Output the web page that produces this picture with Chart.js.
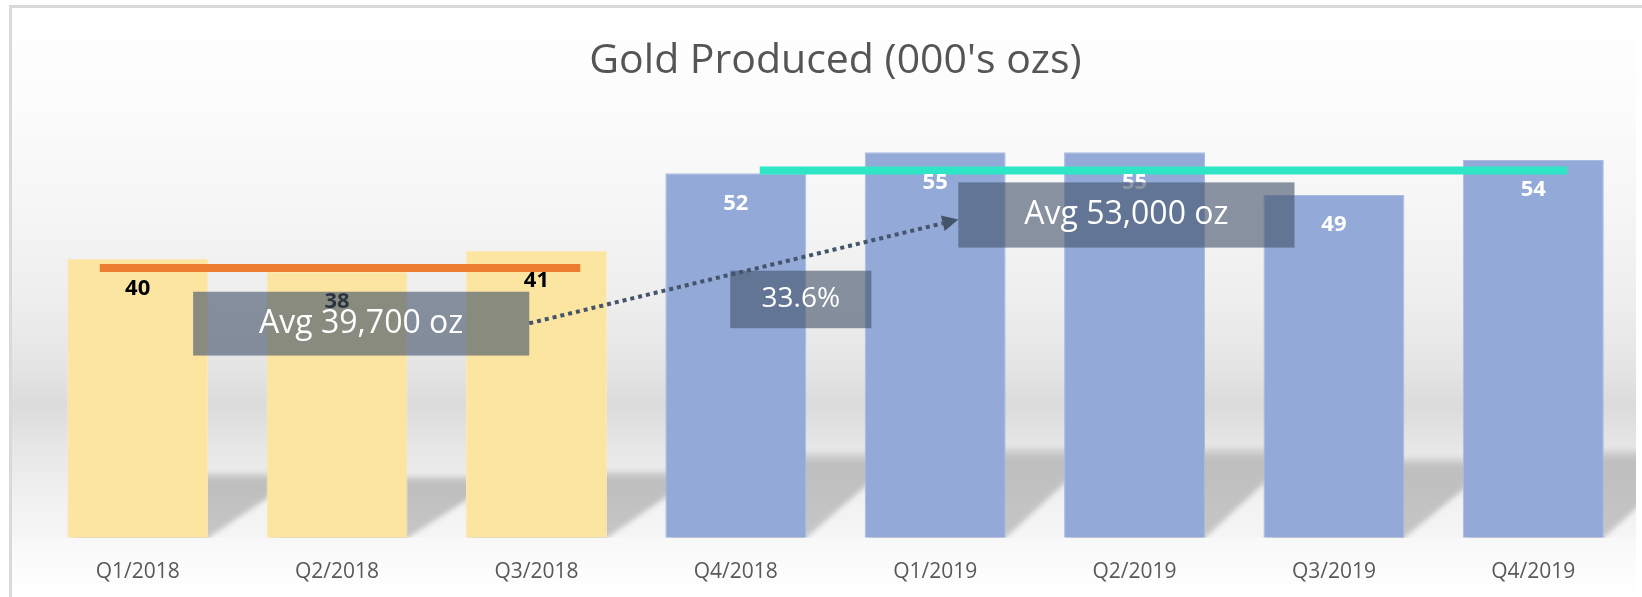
<!DOCTYPE html>
<html>
<head>
<meta charset="utf-8">
<script src="https://cdn.jsdelivr.net/npm/chart.js@4/dist/chart.umd.min.js"></script>
<style>
  html, body { margin: 0; padding: 0; background: #ffffff; }
  #wrap { width: 1642px; height: 597px; }
</style>
</head>
<body>
<div id="wrap"><canvas id="c" width="1642" height="597"></canvas></div>
<script>
// ---------- data ----------
const categories = ['Q1/2018', 'Q2/2018', 'Q3/2018', 'Q4/2018', 'Q1/2019', 'Q2/2019', 'Q3/2019', 'Q4/2019'];
const goldProduced = [39.8, 38.0, 40.9, 52.0, 55.0, 55.0, 48.9, 53.9];
const avgValues = [38.5, 52.4];           // average reference lines, as drawn
const calloutTexts = ['Avg 39,700 oz', '33.6%', 'Avg 53,000 oz'];
const chartTitle = "Gold Produced (000's ozs)";

// ---------- styles / placement (in scale units) ----------
const barColors = ['#FBE5A1', '#FBE5A1', '#FBE5A1', '#93AAD8', '#93AAD8', '#93AAD8', '#93AAD8', '#93AAD8'];
const barBorders = ['#FCEBBB', '#FCEBBB', '#FCEBBB', '#AABCE2', '#AABCE2', '#AABCE2', '#AABCE2', '#AABCE2'];
const labelColors = ['#000000', '#000000', '#000000', '#FFFFFF', '#FFFFFF', '#FFFFFF', '#FFFFFF', '#FFFFFF'];
const avgSpans = [[-0.19, 2.22], [3.12, 7.17]];
const avgColors = ['#ED7D31', '#2EE5C5'];
const calloutBoxes = [
  { x0: 0.278, x1: 1.964, y0: 26.0, y1: 35.1, size: 32 },
  { x0: 2.972, x1: 3.680, y0: 29.9, y1: 38.1, size: 28 },
  { x0: 4.116, x1: 5.802, y0: 41.4, y1: 50.7, size: 32 }
];
const arrowFrom = { x: 1.964, y: 30.6 };
const arrowTo = { x: 4.116, y: 45.4 };

const FONT = "'Open Sans', 'DejaVu Sans', sans-serif";

// ---------- plugins ----------
const backdrop = {
  id: 'backdrop',
  beforeDraw(chart) {
    const { ctx, chartArea: a, width, height } = chart;
    ctx.save();
    ctx.fillStyle = '#ffffff';
    ctx.fillRect(0, 0, width, height);
    const wl = a.left - 26, wr = a.right + 3;
    const top = 8;
    const g = ctx.createLinearGradient(0, top, 0, a.bottom);
    const span = a.bottom - top;
    const stop = (yy) => Math.min(1, Math.max(0, (yy - top) / span));
    g.addColorStop(0, '#ffffff');
    g.addColorStop(stop(100), '#fcfcfc');
    g.addColorStop(stop(200), '#f6f6f6');
    g.addColorStop(stop(300), '#eeeeee');
    g.addColorStop(stop(370), '#e4e4e4');
    g.addColorStop(stop(405), '#dbdbdb');
    g.addColorStop(stop(445), '#e6e6e6');
    g.addColorStop(stop(475), '#ececec');
    g.addColorStop(stop(505), '#f2f2f2');
    g.addColorStop(1, '#f5f5f5');
    ctx.fillStyle = g;
    ctx.fillRect(wl, top, wr - wl, a.bottom - top);
    const g2 = ctx.createLinearGradient(0, a.bottom, 0, height);
    g2.addColorStop(0, '#f8f8f8');
    g2.addColorStop(1, '#ffffff');
    ctx.fillStyle = g2;
    ctx.fillRect(wl, a.bottom, wr - wl, height - a.bottom);
    // frame
    ctx.fillStyle = '#d9d9d9';
    ctx.fillRect(a.left - 29, 5, width, 3);
    ctx.fillRect(a.left - 29, 5, 3, height);
    ctx.restore();
  },
  beforeDatasetsDraw(chart) {
    const { ctx, chartArea: a } = chart;
    const meta = chart.getDatasetMeta(chart.data.datasets.findIndex(d => d.type === 'bar'));
    ctx.save();
    ctx.beginPath();
    ctx.rect(a.left - 26, 0, a.right + 3 - (a.left - 26), a.bottom);
    ctx.clip();
    ctx.filter = 'blur(2.5px)';
    meta.data.forEach(bar => {
      const p = bar.getProps(['x', 'y', 'base', 'width'], true);
      const L = p.x - p.width / 2, R = p.x + p.width / 2;
      const sh = (p.base - p.y) * 0.233;
      const dx = 97;
      const T = p.base - sh;
      const g = ctx.createLinearGradient(0, T - 3, 0, p.base);
      g.addColorStop(0, 'rgba(192,192,192,0.2)');
      g.addColorStop(0.15, 'rgba(190,190,190,1)');
      g.addColorStop(1, 'rgba(198,198,198,1)');
      ctx.fillStyle = g;
      ctx.beginPath();
      ctx.moveTo(L, p.base + 4);
      ctx.lineTo(R, p.base + 4);
      ctx.lineTo(R, p.base);
      ctx.lineTo(R + dx, T);
      ctx.lineTo(L + dx, T);
      ctx.closePath();
      ctx.fill();
    });
    ctx.restore();
  },
  afterDatasetsDraw(chart) {
    const { ctx } = chart;
    const idx = chart.data.datasets.findIndex(d => d.type === 'bar');
    const meta = chart.getDatasetMeta(idx);
    const xs = chart.scales.x2, ys = chart.scales.y;
    ctx.save();
    // value labels
    ctx.font = `bold 22px ${FONT}`;
    ctx.textAlign = 'center';
    ctx.textBaseline = 'middle';
    meta.data.forEach((bar, i) => {
      ctx.fillStyle = labelColors[i];
      ctx.fillText(String(Math.round(goldProduced[i])), bar.x, bar.y + 30);
    });
    // callout boxes
    calloutBoxes.forEach((b, i) => {
      const x0 = xs.getPixelForValue(b.x0), x1 = xs.getPixelForValue(b.x1);
      const y0 = ys.getPixelForValue(b.y1), y1 = ys.getPixelForValue(b.y0);
      ctx.fillStyle = 'rgba(68,84,106,0.62)';
      ctx.fillRect(x0, y0, x1 - x0, y1 - y0);
      ctx.fillStyle = '#ffffff';
      ctx.font = `${b.size}px ${FONT}`;
      ctx.fillText(calloutTexts[i], (x0 + x1) / 2, (y0 + y1) / 2);
    });
    // dotted arrow
    const ax0 = xs.getPixelForValue(arrowFrom.x), ay0 = ys.getPixelForValue(arrowFrom.y);
    const ax1 = xs.getPixelForValue(arrowTo.x), ay1 = ys.getPixelForValue(arrowTo.y);
    const ang = Math.atan2(ay1 - ay0, ax1 - ax0);
    const headLen = 16, headW = 8;
    const bx = ax1 - headLen * Math.cos(ang), by = ay1 - headLen * Math.sin(ang);
    ctx.strokeStyle = '#44546A';
    ctx.lineWidth = 4;
    ctx.setLineDash([4, 4]);
    ctx.lineCap = 'butt';
    ctx.beginPath();
    ctx.moveTo(ax0, ay0);
    ctx.lineTo(bx, by);
    ctx.stroke();
    ctx.setLineDash([]);
    ctx.fillStyle = '#44546A';
    ctx.beginPath();
    ctx.moveTo(ax1, ay1);
    ctx.lineTo(bx + headW * Math.sin(ang), by - headW * Math.cos(ang));
    ctx.lineTo(bx - headW * Math.sin(ang), by + headW * Math.cos(ang));
    ctx.closePath();
    ctx.fill();
    ctx.restore();
  }
};

const lineDatasets = avgValues.map((v, i) => ({
  type: 'line',
  data: [{ x: avgSpans[i][0], y: v }, { x: avgSpans[i][1], y: v }],
  xAxisID: 'x2',
  yAxisID: 'y',
  borderColor: avgColors[i],
  borderWidth: 8,
  borderCapStyle: 'butt',
  pointRadius: 0,
  fill: false,
  order: 0
}));

new Chart(document.getElementById('c'), {
  data: {
    labels: categories,
    datasets: [
      ...lineDatasets,
      {
        type: 'bar',
        data: goldProduced,
        backgroundColor: barColors,
        borderColor: barBorders,
        borderWidth: 1,
        grouped: false,
        barPercentage: 0.707,
        categoryPercentage: 1.0,
        xAxisID: 'x',
        yAxisID: 'y',
        order: 1
      }
    ]
  },
  options: {
    responsive: false,
    devicePixelRatio: 1,
    animation: false,
    layout: { padding: { left: 38, right: 9, top: 0, bottom: 10 } },
    plugins: {
      legend: { display: false },
      tooltip: { enabled: false },
      title: {
        display: true,
        text: chartTitle,
        color: '#555555',
        font: { family: FONT, size: 41, weight: 'normal' },
        padding: { top: 37, bottom: 31 }
      }
    },
    scales: {
      x: {
        type: 'category',
        grid: { display: false, drawTicks: true, tickLength: 20 },
        border: { display: false },
        ticks: { color: '#595959', padding: 2, font: { family: FONT, size: 21 } }
      },
      x2: { type: 'linear', display: false, min: -0.5, max: 7.5 },
      y: { type: 'linear', display: false, min: 0, max: 60 }
    }
  },
  plugins: [backdrop]
});
</script>
</body>
</html>
